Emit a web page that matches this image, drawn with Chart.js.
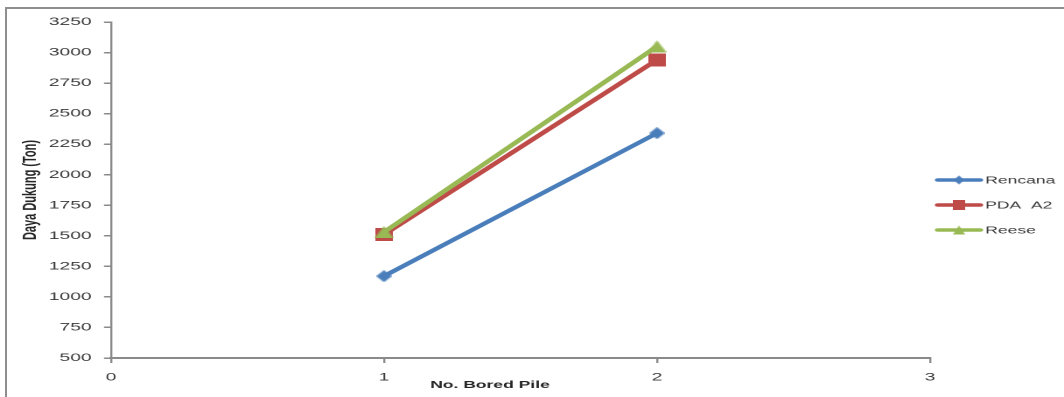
<!DOCTYPE html>
<html>
<head>
<meta charset="utf-8">
<script src="https://cdn.jsdelivr.net/npm/chart.js@4"></script>
<style>
  html, body { margin: 0; padding: 0; background: #fff; overflow: hidden; }
  #frame {
    position: absolute; left: 5px; top: 7px; width: 1090px; height: 430px;
    border: 2px solid #8e8e8e; box-sizing: border-box;
  }
  /* the chart is laid out narrow and widened horizontally, giving the broad lettering */
  #wrap {
    position: absolute; left: 0; top: 0; width: 608px; height: 397px;
    transform: scaleX(1.75); transform-origin: 0 0;
  }
</style>
</head>
<body>
<div id="frame"></div>
<div id="wrap"><canvas id="c" width="608" height="397"></canvas></div>
<script>
// Bearing capacity (ton) per bored pile
const pileNumbers = [1, 2];
const rencana = [1170, 2340];
const pdaA2 = [1510, 2940];
const reese = [1530, 3050];
const seriesNames = ['Rencana', 'PDA  A2', 'Reese'];
const seriesColors = ['#4A7EBB', '#BE4B48', '#98B954'];
const xTicks = [0, 1, 2, 3];
const yTicks = [500, 750, 1000, 1250, 1500, 1750, 2000, 2250, 2500, 2750, 3000, 3250];

const FONT = '"Liberation Sans", Arial, sans-serif';
const TEXT = '#3a3a3a';
const AXIS = '#8a8a8a';

// marker bitmaps (narrow in layout units, widened with the rest of the chart)
function marker(shape, w, h, color) {
  const cv = document.createElement('canvas');
  cv.width = w; cv.height = h;
  const g = cv.getContext('2d');
  g.fillStyle = color;
  g.beginPath();
  if (shape === 'diamond') {
    g.moveTo(w / 2, 0); g.lineTo(w, h / 2); g.lineTo(w / 2, h); g.lineTo(0, h / 2);
  } else if (shape === 'square') {
    g.rect(0, 0, w, h);
  } else {
    g.moveTo(w / 2, 0); g.lineTo(w, h); g.lineTo(0, h);
  }
  g.closePath();
  g.fill();
  return cv;
}
const markers = [
  marker('diamond', 9, 12, seriesColors[0]),
  marker('square', 10, 13, seriesColors[1]),
  marker('triangle', 11, 12, seriesColors[2])
];
const legendMarkerSize = [[6, 9], [7, 10], [7, 9]];

const toPoints = vals => pileNumbers.map((x, i) => ({ x: x, y: vals[i] }));
const seriesValues = [rencana, pdaA2, reese];

const datasets = seriesValues.map((vals, i) => ({
  label: seriesNames[i],
  data: toPoints(vals),
  borderColor: seriesColors[i],
  backgroundColor: seriesColors[i],
  borderWidth: 3.6,
  pointStyle: markers[i],
  pointRadius: 6,
  pointHoverRadius: 6,
  showLine: true,
  order: 3 - i
}));

const legendAndTitle = {
  id: 'legendAndTitle',
  afterDraw(chart) {
    const ctx = chart.ctx;
    ctx.save();
    // x axis caption
    ctx.font = 'bold 10px ' + FONT;
    ctx.fillStyle = '#262626';
    ctx.textAlign = 'center';
    ctx.textBaseline = 'middle';
    ctx.fillText('No. Bored Pile', 280, 385);

    // legend at the right
    const rows = [180, 205, 230];
    ctx.font = '10px ' + FONT;
    ctx.textAlign = 'left';
    chart.data.datasets.forEach((ds, i) => {
      const y = rows[i];
      ctx.strokeStyle = ds.borderColor;
      ctx.lineWidth = 3.6;
      ctx.lineCap = 'round';
      ctx.beginPath();
      ctx.moveTo(536, y);
      ctx.lineTo(560, y);
      ctx.stroke();
      const [mw, mh] = legendMarkerSize[i];
      ctx.drawImage(markers[i], 548 - mw / 2, y - mh / 2, mw, mh);
      ctx.fillStyle = TEXT;
      ctx.fillText(ds.label, 563, y + 0.5);
    });
    ctx.restore();
  }
};

new Chart(document.getElementById('c'), {
  type: 'scatter',
  data: { datasets },
  options: {
    responsive: false,
    devicePixelRatio: 2,
    animation: false,
    events: [],
    layout: { padding: { top: 22, right: 76.6, left: 0, bottom: 0 } },
    plugins: { legend: { display: false }, tooltip: { enabled: false } },
    scales: {
      x: {
        type: 'linear',
        min: xTicks[0],
        max: xTicks[xTicks.length - 1],
        afterFit: s => { s.height = 39; },
        afterBuildTicks: s => { s.ticks = xTicks.map(v => ({ value: v })); },
        ticks: { color: TEXT, font: { family: FONT, size: 11 }, padding: 8 },
        grid: { drawOnChartArea: false, drawTicks: true, tickLength: 5, color: AXIS, lineWidth: 1.2 },
        border: { color: AXIS, width: 2 }
      },
      y: {
        min: yTicks[0],
        max: yTicks[yTicks.length - 1],
        afterFit: s => { s.width = 63.4; },
        afterBuildTicks: s => { s.ticks = yTicks.map(v => ({ value: v })); },
        ticks: { color: TEXT, font: { family: FONT, size: 11 }, padding: 7, callback: v => String(v) },
        grid: { drawOnChartArea: false, drawTicks: true, tickLength: 4, color: AXIS, lineWidth: 1.5 },
        border: { color: AXIS, width: 1.2 },
        title: {
          display: true,
          text: 'Daya Dukung (Ton)',
          color: '#262626',
          font: { family: FONT, size: 11, weight: 'bold' },
          padding: { top: 11, bottom: 0 }
        }
      }
    }
  },
  plugins: [legendAndTitle]
});
</script>
</body>
</html>
